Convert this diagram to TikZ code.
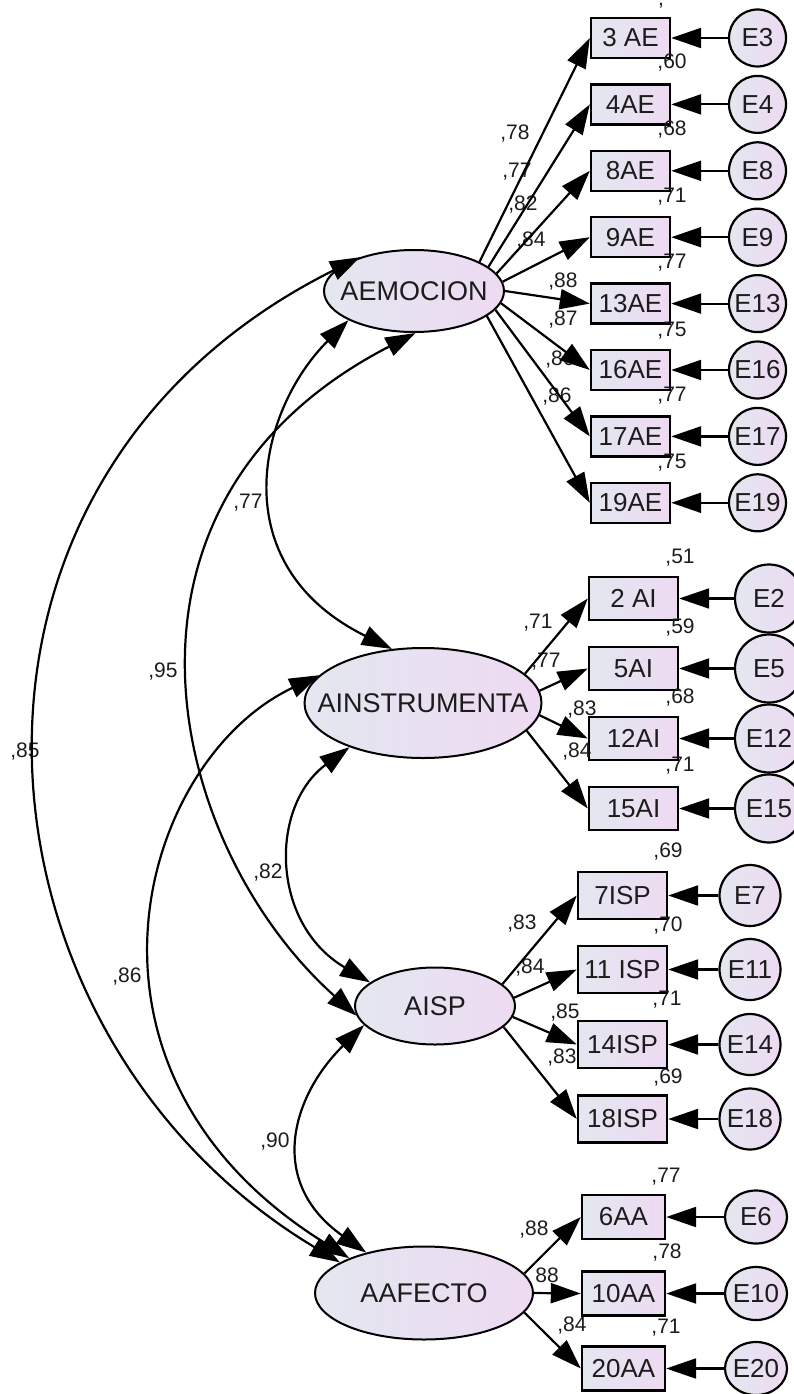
\documentclass[tikz,border=0pt]{standalone}
\usepackage{fontspec}
\setmainfont{Liberation Sans}
\usetikzlibrary{arrows.meta,shapes.geometric}

\definecolor{semL}{RGB}{227,231,240}
\definecolor{semR}{RGB}{238,218,242}
\definecolor{semtxt}{RGB}{28,28,28}

\begin{document}
\begin{tikzpicture}[
    x=1pt, y=-1pt,
    >={Triangle[length=30pt,width=20pt]},
    every node/.style={text=semtxt},
    lat/.style={ellipse, draw, line width=2pt, left color=semL, right color=semR,
                inner xsep=-60pt, inner ysep=0pt, font=\fontsize{27}{29}\selectfont},
    obs/.style={rectangle, draw, line width=2.4pt, left color=semL, right color=semR,
                inner sep=0pt, font=\fontsize{26}{28}\selectfont},
    err/.style={circle, draw, line width=2.2pt, left color=semL, right color=semR,
                inner sep=0pt, font=\fontsize{26}{28}\selectfont},
    coef/.style={inner sep=0pt, font=\fontsize{21}{23}\selectfont},
    load/.style={->, line width=2.2pt},
    cov/.style={<->, line width=2.2pt}
  ]
\useasboundingbox (0,0) rectangle (793,1394);

% latent factors
\node[lat, minimum width=180pt, minimum height=82pt] (AEMOCION) at (414,291) {AEMOCION};
\node[lat, minimum width=237pt, minimum height=110pt] (AINSTRUMENTA) at (423,703) {AINSTRUMENTA};
\node[lat, minimum width=160pt, minimum height=77pt] (AISP) at (435,1006) {AISP};
\node[lat, minimum width=218pt, minimum height=93pt] (AAFECTO) at (424,1293) {AAFECTO};

% items AEMOCION
\node[obs, minimum width=79pt, minimum height=40pt] (ae3) at (630.5,38) {3 AE};
\node[obs, minimum width=79pt, minimum height=40pt] (ae4) at (630.5,104.4) {4AE};
\node[obs, minimum width=79pt, minimum height=40pt] (ae8) at (630.5,170.8) {8AE};
\node[obs, minimum width=79pt, minimum height=40pt] (ae9) at (630.5,237.2) {9AE};
\node[obs, minimum width=79pt, minimum height=40pt] (ae13) at (630.5,303.6) {13AE};
\node[obs, minimum width=79pt, minimum height=40pt] (ae16) at (630.5,370) {16AE};
\node[obs, minimum width=79pt, minimum height=40pt] (ae17) at (630.5,436.4) {17AE};
\node[obs, minimum width=79pt, minimum height=40pt] (ae19) at (630.5,502.8) {19AE};
\node[err, minimum size=57pt] (e3) at (757.5,38) {E3};
\node[err, minimum size=57pt] (e4) at (757.5,104.4) {E4};
\node[err, minimum size=57pt] (e8) at (757.5,170.8) {E8};
\node[err, minimum size=57pt] (e9) at (757.5,237.2) {E9};
\node[err, minimum size=57pt] (e13) at (757.5,303.6) {E13};
\node[err, minimum size=57pt] (e16) at (757.5,370) {E16};
\node[err, minimum size=57pt] (e17) at (757.5,436.4) {E17};
\node[err, minimum size=57pt] (e19) at (757.5,502.8) {E19};

% items AINSTRUMENTA
\node[obs, minimum width=89pt, minimum height=43pt] (ai2) at (633.5,598.5) {2 AI};
\node[obs, minimum width=89pt, minimum height=43pt] (ai5) at (633.5,668.5) {5AI};
\node[obs, minimum width=89pt, minimum height=43pt] (ai12) at (633.5,738.5) {12AI};
\node[obs, minimum width=89pt, minimum height=43pt] (ai15) at (633.5,808.5) {15AI};
\node[err, minimum size=68pt] (e2) at (769,598.5) {E2};
\node[err, minimum size=68pt] (e5) at (769,668.5) {E5};
\node[err, minimum size=68pt] (e12) at (769,738.5) {E12};
\node[err, minimum size=68pt] (e15) at (769,808.5) {E15};

% items AISP
\node[obs, minimum width=89pt, minimum height=47pt] (isp7) at (622.5,895.5) {7ISP};
\node[obs, minimum width=89pt, minimum height=47pt] (isp11) at (622.5,969.5) {11 ISP};
\node[obs, minimum width=89pt, minimum height=47pt] (isp14) at (622.5,1044.5) {14ISP};
\node[obs, minimum width=89pt, minimum height=47pt] (isp18) at (622.5,1119) {18ISP};
\node[err, minimum size=61pt] (e7) at (750,895.5) {E7};
\node[err, minimum size=61pt] (e11) at (750,969.5) {E11};
\node[err, minimum size=61pt] (e14) at (750,1044.5) {E14};
\node[err, minimum size=61pt] (e18) at (750,1119) {E18};

% items AAFECTO
\node[obs, minimum width=83pt, minimum height=44pt] (aa6) at (623.5,1217) {6AA};
\node[obs, minimum width=83pt, minimum height=44pt] (aa10) at (623.5,1293.5) {10AA};
\node[obs, minimum width=83pt, minimum height=44pt] (aa20) at (623.5,1368.5) {20AA};
\node[err, ellipse, minimum width=62pt, minimum height=53pt, inner xsep=-8pt] (e6) at (756,1217) {E6};
\node[err, ellipse, minimum width=62pt, minimum height=53pt, inner xsep=-8pt] (e10) at (756,1293.5) {E10};
\node[err, ellipse, minimum width=62pt, minimum height=53pt, inner xsep=-8pt] (e20) at (756,1368.5) {E20};

% coefficients
\node[coef] (w3) at (515,134) {,78};
\node[coef] (w4) at (517,172) {,77};
\node[coef] (w8) at (523,205) {,82};
\node[coef] (w9) at (531,241) {,84};
\node[coef] (w13) at (563,282) {,88};
\node[coef] (w16) at (563,320) {,87};
\node[coef] (w17) at (560,360) {,86};
\node[coef] (w19) at (557,397) {,86};
\node[coef, text height=2pt, anchor=north] (r3) at (661,3) {,};
\node[coef] (r4) at (672,63) {,60};
\node[coef] (r8) at (672,130) {,68};
\node[coef] (r9) at (672,197) {,71};
\node[coef] (r13) at (672,263) {,77};
\node[coef] (r16) at (672,331) {,75};
\node[coef] (r17) at (672,396) {,77};
\node[coef] (r19) at (672,463) {,75};

\node[coef] (w2) at (538,623) {,71};
\node[coef] (w5) at (546,662) {,77};
\node[coef] (w12) at (582,710) {,83};
\node[coef] (w15) at (577,752) {,84};
\node[coef] (r2) at (680,558) {,51};
\node[coef] (r5) at (680,628) {,59};
\node[coef] (r12) at (680,698) {,68};
\node[coef] (r15) at (680,766) {,71};

\node[coef] (w7) at (522,924) {,83};
\node[coef] (w11) at (530,967) {,84};
\node[coef] (w14) at (565,1012) {,85};
\node[coef] (w18) at (562,1057) {,83};
\node[coef] (r7) at (668,852) {,69};
\node[coef] (r11) at (668,926) {,70};
\node[coef] (r14) at (667,1000) {,71};
\node[coef] (r18) at (668,1077) {,69};

\node[coef] (w6) at (534,1229) {,88};
\node[coef] (w10) at (547,1275) {88};
\node[coef] (w20) at (572,1325) {,84};
\node[coef] (r6) at (666,1177) {,77};
\node[coef] (r10) at (667,1252) {,78};
\node[coef] (r20) at (666,1328) {,71};

\node[coef] (c85) at (25,752) {,85};
\node[coef] (c95) at (163,672) {,95};
\node[coef] (c77) at (248,503) {,77};
\node[coef] (c82) at (268,873) {,82};
\node[coef] (c86) at (127,976) {,86};
\node[coef] (c90) at (275,1141) {,90};

% loadings
\draw[load] (AEMOCION.24) -- (ae3.west);
\draw[load] (AEMOCION.18) -- (ae4.west);
\draw[load] (AEMOCION.12) -- (ae8.west);
\draw[load] (AEMOCION.6) -- (ae9.west);
\draw[load] (AEMOCION.0) -- (ae13.west);
\draw[load] (AEMOCION.-8) -- (ae16.west);
\draw[load] (AEMOCION.-13) -- (ae17.west);
\draw[load] (AEMOCION.-19) -- (ae19.west);
\draw[load] (AINSTRUMENTA.16) -- (ai2.west);
\draw[load] (AINSTRUMENTA.6) -- (ai5.west);
\draw[load] (AINSTRUMENTA.-6) -- (ai12.west);
\draw[load] (AINSTRUMENTA.-15) -- (ai15.west);
\draw[load] (AISP.18) -- (isp7.west);
\draw[load] (AISP.6) -- (isp11.west);
\draw[load] (AISP.-8) -- (isp14.west);
\draw[load] (AISP.-17) -- (isp18.west);
\draw[load] (AAFECTO.11) -- (aa6.west);
\draw[load] (AAFECTO.0) -- (aa10.west);
\draw[load] (AAFECTO.-11) -- (aa20.west);

% errors
\draw[load] (e3) -- (ae3);
\draw[load] (e4) -- (ae4);
\draw[load] (e8) -- (ae8);
\draw[load] (e9) -- (ae9);
\draw[load] (e13) -- (ae13);
\draw[load] (e16) -- (ae16);
\draw[load] (e17) -- (ae17);
\draw[load] (e19) -- (ae19);
\draw[load] (e2) -- (ai2);
\draw[load] (e5) -- (ai5);
\draw[load] (e12) -- (ai12);
\draw[load] (e15) -- (ai15);
\draw[load] (e7) -- (isp7);
\draw[load] (e11) -- (isp11);
\draw[load] (e14) -- (isp14);
\draw[load] (e18) -- (isp18);
\draw[load] (e6) -- (aa6);
\draw[load] (e10) -- (aa10);
\draw[load] (e20) -- (aa20);

% covariances
\draw[cov] (AEMOCION.148) .. controls +(-451,225) and +(-380,-228) .. (AAFECTO.160);
\draw[cov] (AEMOCION.272) .. controls +(-330,170) and +(-190,-170) .. (AISP.187);
\draw[cov] (AEMOCION.204) .. controls +(-91,91) and +(-170,-84) .. (AINSTRUMENTA.120);
\draw[cov] (AINSTRUMENTA.165) .. controls +(-180,85) and +(-300,-187) .. (AAFECTO.155);
\draw[cov] (AINSTRUMENTA.211) .. controls +(-80,59) and +(-100,-59) .. (AISP.160);
\draw[cov] (AISP.195) .. controls +(-72,71) and +(-100,-71) .. (AAFECTO.145);
\end{tikzpicture}
\end{document}
